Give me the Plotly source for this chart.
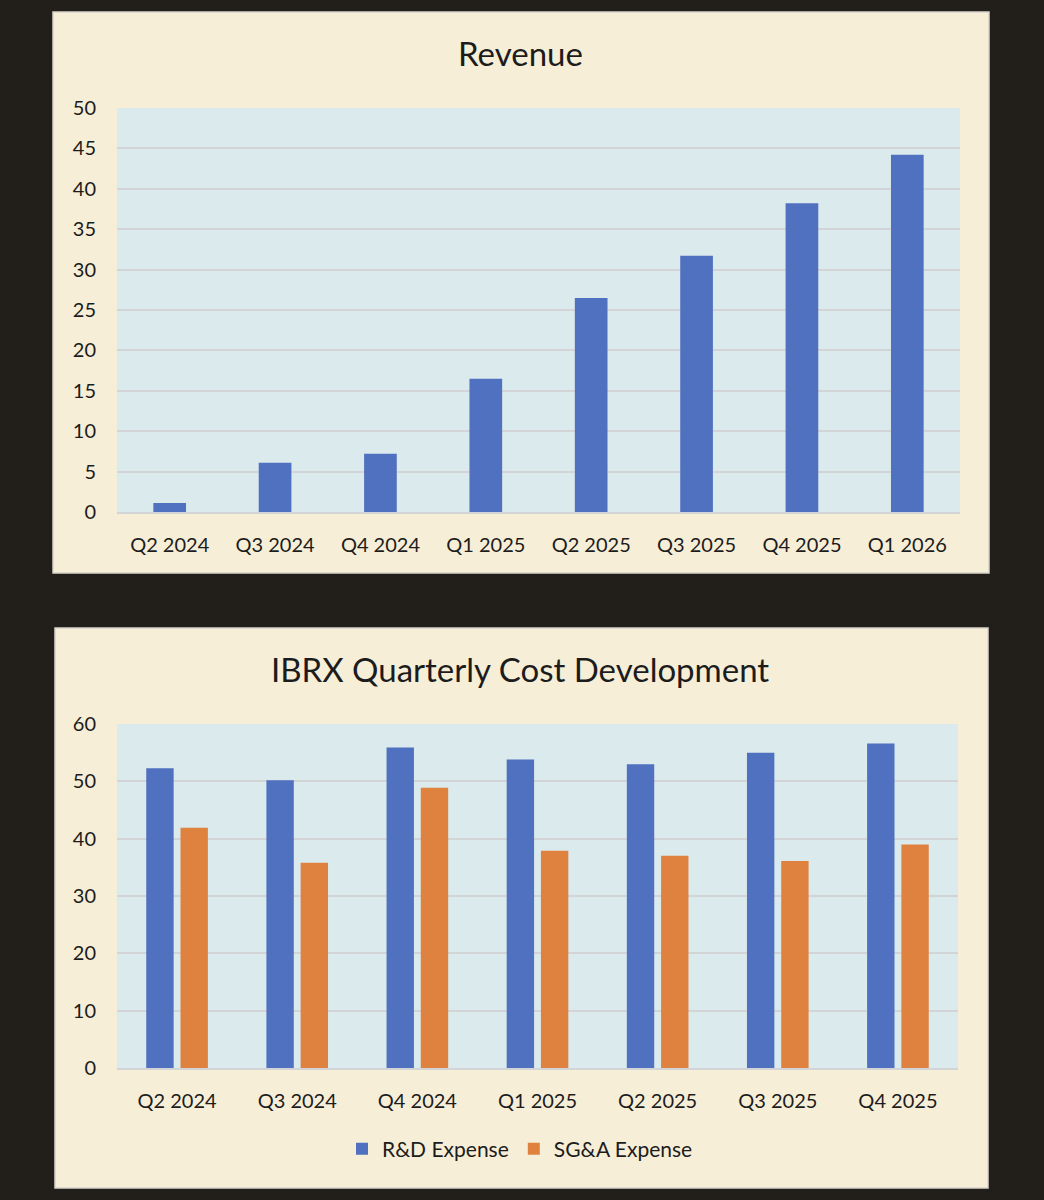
import plotly.graph_objects as go

# ---- data ----
rev_quarters = ["Q2 2024", "Q3 2024", "Q4 2024", "Q1 2025", "Q2 2025", "Q3 2025", "Q4 2025", "Q1 2026"]
revenue = [1.1, 6.1, 7.2, 16.5, 26.5, 31.7, 38.2, 44.2]

cost_quarters = ["Q2 2024", "Q3 2024", "Q4 2024", "Q1 2025", "Q2 2025", "Q3 2025", "Q4 2025"]
rd_expense = [52.3, 50.2, 55.9, 53.8, 53.0, 55.0, 56.6]
sga_expense = [41.9, 35.8, 48.9, 37.9, 37.0, 36.1, 39.0]

W, H = 1044, 1200
BLUE = "#4f71bf"
ORANGE = "#e0823f"
PANEL = "#f7eed7"
PLOTBG = "#dbeaed"
DARK = "#221f1a"
GRID = "#d3d4d6"
TXT = "#1c1c1c"
FONT = "Lato"

def px(x):
    return x / W

def py(y):
    return 1 - y / H

fig = go.Figure()

fig.add_trace(go.Bar(x=rev_quarters, y=revenue, marker_color=BLUE, marker_line_width=0, width=0.31,
                     xaxis="x", yaxis="y", showlegend=False, name="Revenue"))
fig.add_trace(go.Bar(x=cost_quarters, y=rd_expense, marker_color=BLUE, marker_line_width=0,
                     xaxis="x2", yaxis="y2", name="R&D Expense", offsetgroup="a"))
fig.add_trace(go.Bar(x=cost_quarters, y=sga_expense, marker_color=ORANGE, marker_line_width=0,
                     xaxis="x2", yaxis="y2", name="SG&A Expense", offsetgroup="b"))

tickfont = dict(family=FONT, size=20, color=TXT)

fig.update_layout(
    template="none",
    autosize=False,
    width=W, height=H,
    margin=dict(l=0, r=0, t=0, b=0, pad=0, autoexpand=False),
    paper_bgcolor=DARK,
    plot_bgcolor=PLOTBG,
    barmode="group",
    bargap=0.43,
    bargroupgap=0.2,
    font=dict(family=FONT, color=TXT),
    xaxis=dict(domain=[px(117), px(960)], anchor="y", showgrid=False, showline=True,
               linecolor=GRID, linewidth=2, tickfont=tickfont, ticks="", automargin=False,
               ticklabelstandoff=14, fixedrange=True),
    yaxis=dict(domain=[py(512), py(108)], anchor="x", range=[0, 50], dtick=5,
               showgrid=True, gridcolor=GRID, gridwidth=2, zeroline=False, showline=False,
               ticks="", automargin=False,
               tickfont=tickfont, ticklabelstandoff=20, fixedrange=True),
    xaxis2=dict(domain=[px(117), px(958)], anchor="y2", showgrid=False, showline=True,
                linecolor=GRID, linewidth=2, tickfont=tickfont, ticks="", automargin=False,
                ticklabelstandoff=14, fixedrange=True),
    yaxis2=dict(domain=[py(1068), py(724)], anchor="x2", range=[0, 60], dtick=10,
                showgrid=True, gridcolor=GRID, gridwidth=2, zeroline=False, showline=False,
                ticks="", automargin=False,
                tickfont=tickfont, ticklabelstandoff=20, fixedrange=True),
    legend=dict(orientation="h", x=px(520), xanchor="center", y=py(1149), yanchor="middle",
                font=dict(family=FONT, size=21, color=TXT), bgcolor="rgba(0,0,0,0)",
                borderwidth=0, itemwidth=30, traceorder="normal"),
    shapes=[
        dict(type="rect", xref="paper", yref="paper", x0=px(53), x1=px(989), y0=py(573), y1=py(12),
             fillcolor=PANEL, line=dict(color="#d8d4cc", width=1.5), layer="below"),
        dict(type="rect", xref="paper", yref="paper", x0=px(55), x1=px(988), y0=py(1188), y1=py(628),
             fillcolor=PANEL, line=dict(color="#d8d4cc", width=1.5), layer="below"),
        dict(type="rect", xref="x domain", yref="y domain", x0=0, x1=1, y0=0, y1=1,
             fillcolor=PLOTBG, line=dict(width=0), layer="below"),
        dict(type="rect", xref="x2 domain", yref="y2 domain", x0=0, x1=1, y0=0, y1=1,
             fillcolor=PLOTBG, line=dict(width=0), layer="below"),
    ],
    annotations=[
        dict(text="Revenue", xref="paper", yref="paper", x=px(520), y=py(53),
             xanchor="center", yanchor="middle", showarrow=False,
             font=dict(family=FONT, size=33, color=TXT)),
        dict(text="IBRX Quarterly Cost Development", xref="paper", yref="paper", x=px(520), y=py(669),
             xanchor="center", yanchor="middle", showarrow=False,
             font=dict(family=FONT, size=33, color=TXT)),
    ],
)

post = ("document.documentElement.style.margin='0';document.body.style.margin='0';"
        "document.documentElement.style.background='#221f1a';document.body.style.background='#221f1a';"
        "document.documentElement.style.overflow='hidden';document.body.style.overflow='hidden';")

fig.write_html("out.html", post_script=post, config={"displayModeBar": False})
